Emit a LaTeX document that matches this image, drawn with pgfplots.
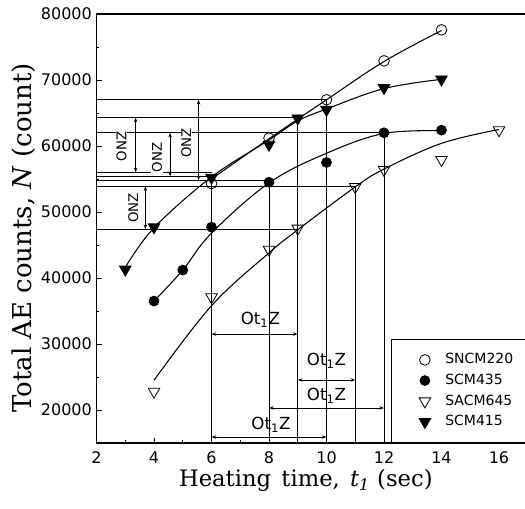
\documentclass[border=0pt]{standalone}
\usepackage{fontspec}
\setmainfont{DejaVu Serif}
\setsansfont{DejaVu Sans}
\usepackage{pgfplots}
\pgfplotsset{compat=1.18}
\usetikzlibrary{arrows.meta}

\pgfplotstableread{
x y
6 54300
8 61200
10 67000
12 72900
14 77600
}\sncmMarks
\pgfplotstableread{
x y
4 36500
5 41200
6 47700
8 54500
10 57500
12 62000
14 62400
}\scmfMarks
\pgfplotstableread{
x y
4 22800
6 37100
8 44300
9 47500
11 53800
12 56400
14 57900
16 62400
}\sacmMarks
\pgfplotstableread{
x y
3 41300
4 47700
6 55200
8 60200
9 64200
10 65500
12 68800
14 70100
}\scmoMarks

\begin{document}
\begin{tikzpicture}
\begin{axis}[
  scale only axis, width=322.36pt, height=321.75pt,
  xmin=2, xmax=16.95, ymin=15000, ymax=80000,
  xtick={2,4,...,16}, ytick={20000,30000,...,80000},
  minor xtick={3,5,...,15}, minor ytick={25000,35000,...,75000},
  xtick pos=bottom, ytick pos=left, tick align=inside,
  major tick length=3.75pt, minor tick length=2pt,
  axis line style={line width=0.9pt},
  every tick/.style={black, line width=0.6pt},
  scaled y ticks=false,
  /pgf/number format/1000 sep={},
  /pgf/number format/assume math mode=true,
  tick label style={font=\sffamily\fontsize{12}{13}\selectfont},
  xticklabel style={yshift=-3.2pt},
  xlabel={Heating\hspace{0.45em}time,\hspace{0.45em}\textit{t}\textsubscript{\textit{1}} (sec)},
  ylabel={Total AE counts, \textit{N} (count)},
  x label style={font=\fontsize{17}{19}\selectfont, at={(axis description cs:0.487,0)}, anchor=base, yshift=-32.5pt},
  y label style={font=\fontsize{19.5}{21}\selectfont, at={(axis description cs:-0.1508,0.478)}, anchor=base},
  legend style={at={(0.685,0)}, anchor=south west, draw=black, line width=0.8pt, fill=white,
    font=\sffamily\fontsize{10.5}{12}\selectfont, inner xsep=20.75pt, inner ysep=9.4pt,
    row sep=3.5pt, nodes={inner sep=1pt, text height=8pt, text depth=2pt},
    /tikz/every odd column/.append style={column sep=10pt}},
  legend cell align=left,
  ann/.style={black, line width=0.6pt},
  arr/.style={black, line width=0.6pt, {Stealth[length=3.5pt,width=2.6pt]}-{Stealth[length=3.5pt,width=2.6pt]}},
  crv/.style={black, line width=0.8pt, smooth, tension=0.6, no marks},
]
% reference lines
\addplot[ann, forget plot] coordinates {(2,67000) (10,67000) (10,15000)};
\addplot[ann, forget plot] coordinates {(2,64300) (9,64300) (9,15000)};
\addplot[ann, forget plot] coordinates {(2,62000) (12,62000) (12,15000)};
\addplot[ann, forget plot] coordinates {(2,56000) (6,56000)};
\addplot[ann, forget plot] coordinates {(2,55400) (6,55400) (6,15000)};
\addplot[ann, forget plot] coordinates {(2,54800) (8,54800) (8,15000)};
\addplot[ann, forget plot] coordinates {(2,53900) (11,53900) (11,15000)};
\addplot[ann, forget plot] coordinates {(2,47400) (9,47400)};
% ONZ arrows
\addplot[arr, forget plot] coordinates {(3.36,56000) (3.36,64300)};
\addplot[arr, forget plot] coordinates {(4.56,55400) (4.56,62000)};
\addplot[arr, forget plot] coordinates {(5.55,54800) (5.55,67000)};
\addplot[arr, forget plot] coordinates {(3.70,47400) (3.70,53900)};
% Ot1Z arrows
\addplot[arr, forget plot] coordinates {(6,31500) (9,31500)};
\addplot[arr, forget plot] coordinates {(9,24550) (11,24550)};
\addplot[arr, forget plot] coordinates {(8,20300) (12,20300)};
\addplot[arr, forget plot] coordinates {(6,15900) (10,15900)};
% fitted curves
\addplot[crv, forget plot] coordinates {(6,55000) (8,61100) (10,67000) (12,72800) (14,77500)};
\addplot[crv, forget plot] coordinates {(3,41600) (4,47600) (6,55300) (8,60900) (9,63800) (10,65600) (12,68700) (14,70100)};
\addplot[crv, forget plot] coordinates {(4,36500) (5,41200) (6,46800) (8,54400) (10,58900) (12,61900) (14,62300)};
\addplot[crv, forget plot] coordinates {(4,24500) (6,35800) (8,43800) (9,47300) (11,53800) (12,56500) (14,60400) (16,62500)};
% markers
\addplot[only marks, mark=o, mark size=4pt, mark options={black, fill=white, line width=0.6pt}] table {\sncmMarks};
\addlegendentry{SNCM220}
\addplot[only marks, mark=*, mark size=3.7pt, mark options={black, fill=black, line width=0.6pt}] table {\scmfMarks};
\addlegendentry{SCM435}
\addplot[only marks, mark=triangle, mark size=5pt, mark options={black, fill=white, rotate=180, line width=0.6pt}] table {\sacmMarks};
\addlegendentry{SACM645}
\addplot[only marks, mark=triangle*, mark size=5pt, mark options={black, fill=black, rotate=180, line width=0.6pt}] table {\scmoMarks};
\addlegendentry{SCM415}
% labels
\node[rotate=90, font=\sffamily\fontsize{10}{10}\selectfont, fill=white, inner sep=0.5pt] at (axis cs:2.87,59900) {ONZ};
\node[rotate=90, font=\sffamily\fontsize{10}{10}\selectfont, fill=white, inner sep=0.5pt] at (axis cs:4.10,58300) {ONZ};
\node[rotate=90, font=\sffamily\fontsize{10}{10}\selectfont, fill=white, inner sep=0.5pt] at (axis cs:5.12,60450) {ONZ};
\node[rotate=90, font=\sffamily\fontsize{10}{10}\selectfont, fill=white, inner sep=0.5pt] at (axis cs:3.28,50600) {ONZ};
\node[font=\sffamily\fontsize{12.5}{13}\selectfont, inner sep=0.5pt] at (axis cs:7.7,33650) {Ot\textsubscript{1}Z};
\node[font=\sffamily\fontsize{12.5}{13}\selectfont, inner sep=0.5pt] at (axis cs:10.0,27400) {Ot\textsubscript{1}Z};
\node[font=\sffamily\fontsize{12.5}{13}\selectfont, inner sep=0.5pt] at (axis cs:10.0,22100) {Ot\textsubscript{1}Z};
\node[font=\sffamily\fontsize{12.5}{13}\selectfont, inner sep=0.5pt] at (axis cs:8.07,17750) {Ot\textsubscript{1}Z};
\end{axis}
\pgfresetboundingbox
\path ([xshift=-72.4pt,yshift=-49.5pt]current axis.south west) rectangle ([xshift=-0.98pt,yshift=10.5pt]current axis.north east);
\end{tikzpicture}
\end{document}
